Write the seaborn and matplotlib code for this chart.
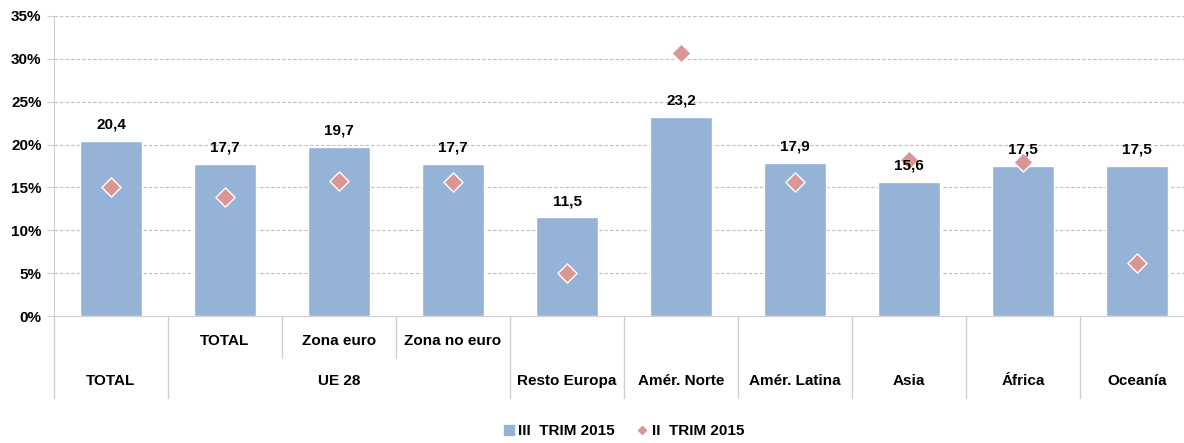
import numpy as np
import pandas as pd
import matplotlib.pyplot as plt
import matplotlib.transforms as mtransforms
from matplotlib.lines import Line2D
import seaborn as sns

# %% data
keys = ["total", "ue_total", "zona_euro", "zona_no_euro", "resto_europa",
        "amer_norte", "amer_latina", "asia", "africa", "oceania"]
trim3_2015 = [20.4, 17.7, 19.7, 17.7, 11.5, 23.2, 17.9, 15.6, 17.5, 17.5]
trim2_2015 = [15.0, 13.9, 15.7, 15.6, 5.0, 30.7, 15.6, 18.2, 18.0, 6.2]
sub_labels = ["", "TOTAL", "Zona euro", "Zona no euro", "", "", "", "", "", ""]
group_labels = ["TOTAL", "UE 28", "Resto Europa", "Amér. Norte", "Amér. Latina",
                "Asia", "África", "Oceanía"]
group_spans = [1, 3, 1, 1, 1, 1, 1, 1]
y_ticks = [0, 5, 10, 15, 20, 25, 30, 35]

df = pd.DataFrame({"key": keys, "pos": range(len(keys)),
                   "trim3": trim3_2015, "trim2": trim2_2015})

bar_color = "#95B3D7"
dot_color = "#D99694"
grid_color = "#BFBFBF"
line_color = "#D0D0D0"
fs = 11

sns.set_style("white")
plt.rcParams["font.family"] = ["Liberation Sans", "DejaVu Sans"]
plt.rcParams["font.weight"] = "bold"
plt.rcParams["text.color"] = "black"
plt.rcParams["ytick.labelcolor"] = "black"

fig = plt.figure(figsize=(11.84, 4.43), dpi=100)
ax = fig.add_axes([54 / 1184, 127 / 443, 1140 / 1184, 300 / 443])

# %% bars + diamonds
sns.barplot(data=df, x="pos", y="trim3", color=bar_color, width=0.55,
            saturation=1, ax=ax, zorder=2)
sns.scatterplot(data=df, x="pos", y="trim2", marker="D", s=95, color=dot_color,
                edgecolor="white", linewidth=1.0, ax=ax, zorder=4, legend=False)

for i, v in enumerate(trim3_2015):
    ax.text(i, v + 1.1, f"{v:.1f}".replace(".", ","), ha="center", va="bottom",
            fontsize=fs, fontweight="bold", color="black", zorder=5)

# %% axes
ax.set_xlim(-0.5, len(keys) - 0.5)
ax.set_ylim(0, 35)
ax.set_yticks(y_ticks)
ax.set_yticklabels([f"{t}%" for t in y_ticks], fontsize=fs, fontweight="bold",
                   color="black")
ax.set_xticks([])
ax.set_xlabel("")
ax.set_ylabel("")
for t in y_ticks[1:]:
    ax.axhline(t, color=grid_color, lw=0.8, ls=(0, (3, 2)), zorder=1)
for s in ["top", "right"]:
    ax.spines[s].set_visible(False)
ax.spines["left"].set_color(line_color)
ax.spines["bottom"].set_color(line_color)
ax.spines["left"].set_zorder(1)
ax.tick_params(axis="y", length=5, color=line_color, pad=4, direction="out", left=True)

# %% category table below the axis
trans = mtransforms.blended_transform_factory(ax.transData, ax.transAxes)
row1_y, row2_y = -0.083, -0.217
mid_y, bot_y = -0.14, -0.273

# subcategory labels + short separators
for i, lab in enumerate(sub_labels):
    if lab:
        ax.text(i, row1_y, lab, transform=trans, ha="center", va="center",
                fontsize=fs, fontweight="bold", color="black")
for i in range(1, len(sub_labels)):
    if sub_labels[i] and sub_labels[i - 1]:
        ax.plot([i - 0.5, i - 0.5], [0, mid_y], transform=trans, color=line_color,
                lw=1, clip_on=False)

# group labels + full separators
start = 0
for lab, span in zip(group_labels, group_spans):
    ax.text(start + span / 2 - 0.5, row2_y, lab, transform=trans, ha="center",
            va="center", fontsize=fs, fontweight="bold", color="black")
    ax.plot([start - 0.5, start - 0.5], [0, bot_y], transform=trans, color=line_color,
            lw=1, clip_on=False)
    start += span

# %% legend
handles = [
    Line2D([], [], marker="s", ls="", color=bar_color, markersize=7, label="III  TRIM 2015"),
    Line2D([], [], marker="D", ls="", color=dot_color, markersize=4.5, label="II  TRIM 2015"),
]
leg = fig.legend(handles=handles, loc="center", bbox_to_anchor=(0.526, 0.027), ncol=2,
                 frameon=False, handletextpad=0.1, columnspacing=1.3,
                 handlelength=1.0, prop={"weight": "bold", "size": fs})
for t in leg.get_texts():
    t.set_color("black")

fig.savefig("out.png", dpi=100)
